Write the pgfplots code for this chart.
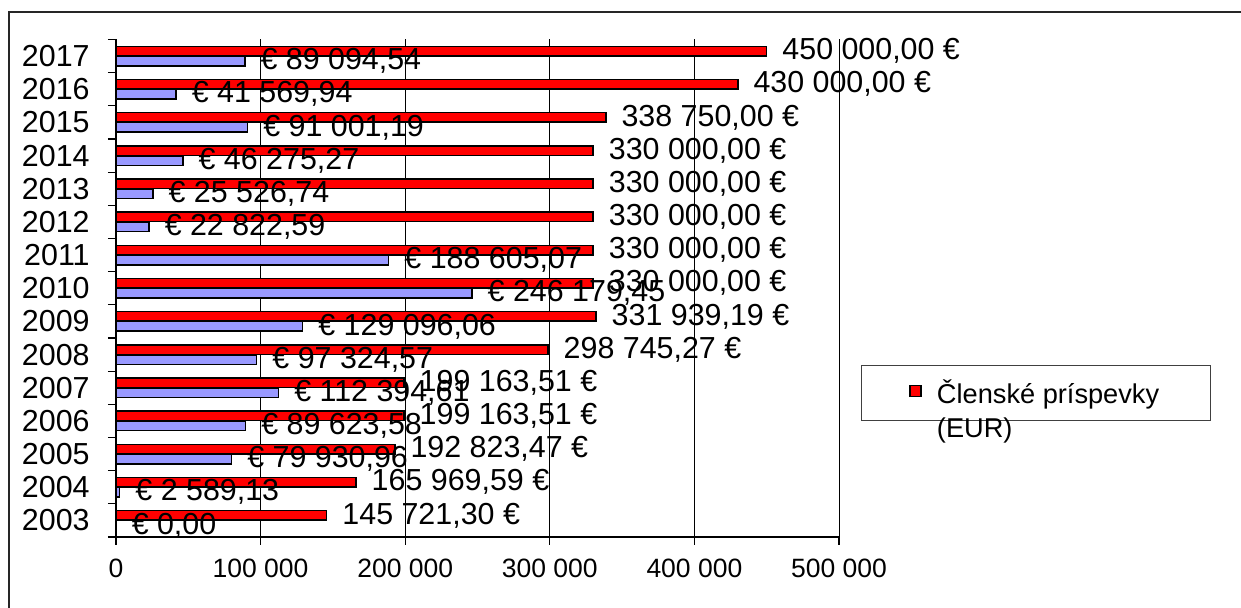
\documentclass[border=0pt]{standalone}
\usepackage{pgfplots}
\pgfplotsset{compat=1.18}
\usepackage{fontspec}
\setmainfont{Liberation Sans}
\definecolor{barred}{RGB}{255,0,0}
\definecolor{barblue}{RGB}{153,153,255}
\newcommand{\fsdata}{\fontsize{15.2}{18}\selectfont}
\newcommand{\fsx}{\fontsize{13.25}{16}\selectfont}
\newcommand{\fsleg}{\fontsize{13.6}{17}\selectfont}
\begin{document}
\begin{tikzpicture}
\useasboundingbox (-58pt,-35.5pt) rectangle (562.5pt,268.5pt);
\fill[white] (-58pt,-35.5pt) rectangle (562.5pt,268.5pt);
\draw[black!85, line width=0.75pt] (-53.5pt,-40pt) -- (-53.5pt,262.5pt) -- (570pt,262.5pt);
\begin{axis}[
  at={(0pt,0pt)}, anchor=south west,
  scale only axis, width=361.5pt, height=248.75pt,
  xbar, bar width=4.75pt,
  xmin=0, xmax=500000, ymin=-0.5, ymax=14.5,
  axis x line*=bottom, axis y line*=left,
  axis line style={black, line width=0.6pt},
  scaled x ticks=false,
  xtick={0,100000,200000,300000,400000,500000},
  xticklabels={0,100 000,200 000,300 000,400 000,500 000},
  ytick={0,...,14},
  yticklabels={2003,2004,2005,2006,2007,2008,2009,2010,2011,2012,2013,2014,2015,2016,2017},
  minor ytick={-0.5,0.5,...,14.5},
  major y tick style={draw=none},
  minor y tick style={black, line width=0.6pt},
  major x tick style={black, line width=0.6pt},
  tick align=outside,
  major tick length=4pt, minor tick length=4pt,
  xmajorgrids, major grid style={black, line width=0.5pt},
  xticklabel style={font=\fsx, anchor=north, inner sep=0pt, yshift=-7pt},
  yticklabel style={font=\fsdata, anchor=east, inner sep=0pt, xshift=-9pt},
  clip=false,
  point meta=explicit symbolic,
  nodes near coords,
  every node near coord/.append style={anchor=west, inner sep=0pt, xshift=7.5pt, font=\fsdata, text=black},
  legend style={at={(1.0304,0.3457)}, anchor=north west, draw=black!75, line width=0.5pt,
    inner xsep=0pt, inner ysep=5pt, column sep=0pt, font=\fsleg,
    cells={anchor=base west}},
  legend image code/.code={\path (0pt,0pt); \draw[fill=barred, draw=black, line width=0.75pt] (24pt,3.4pt) rectangle (29.5pt,8.9pt); \path (35pt,0pt);},
]
\addplot[xbar, bar shift=2.5pt, fill=barred, draw=black, line width=0.75pt] coordinates {
  (145721.30,0) [145 721,30 €]
  (165969.59,1) [165 969,59 €]
  (192823.47,2) [192 823,47 €]
  (199163.51,3) [199 163,51 €]
  (199163.51,4) [199 163,51 €]
  (298745.27,5) [298 745,27 €]
  (331939.19,6) [331 939,19 €]
  (330000,7) [330 000,00 €]
  (330000,8) [330 000,00 €]
  (330000,9) [330 000,00 €]
  (330000,10) [330 000,00 €]
  (330000,11) [330 000,00 €]
  (338750,12) [338 750,00 €]
  (430000,13) [430 000,00 €]
  (450000,14) [450 000,00 €]
};
\addlegendentry{\begin{tabular}[t]{@{}l@{\hspace{23.5pt}}}Členské príspevky\\(EUR)\end{tabular}}
\addplot[xbar, bar shift=-2.5pt, fill=barblue, draw=black, line width=0.75pt, forget plot] coordinates {
  (0,0) [€ 0,00]
  (2589.13,1) [€ 2 589,13]
  (79930.96,2) [€ 79 930,96]
  (89623.58,3) [€ 89 623,58]
  (112394.61,4) [€ 112 394,61]
  (97324.57,5) [€ 97 324,57]
  (129096.06,6) [€ 129 096,06]
  (246179.45,7) [€ 246 179,45]
  (188605.07,8) [€ 188 605,07]
  (22822.59,9) [€ 22 822,59]
  (25526.74,10) [€ 25 526,74]
  (46275.27,11) [€ 46 275,27]
  (91001.19,12) [€ 91 001,19]
  (41569.94,13) [€ 41 569,94]
  (89094.54,14) [€ 89 094,54]
};
\end{axis}
\end{tikzpicture}
\end{document}
